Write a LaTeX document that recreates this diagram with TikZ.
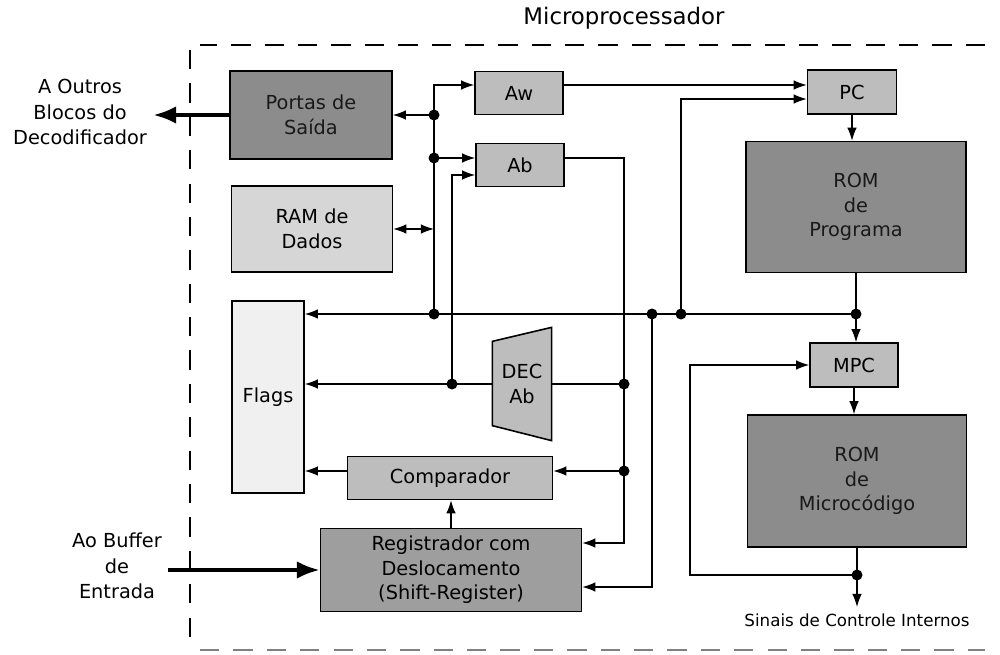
\documentclass[tikz,border=0pt]{standalone}
\usepackage{fontspec}
\setmainfont{DejaVu Sans}
\usetikzlibrary{calc,arrows.meta}
\definecolor{MPdark}{gray}{0.55}
\definecolor{MPmid}{gray}{0.62}
\definecolor{MPlight}{gray}{0.74}
\definecolor{MPpale}{gray}{0.84}
\definecolor{MPflag}{gray}{0.94}

\begin{document}
\begin{tikzpicture}[x=0.02cm,y=-0.02cm,>={Latex[length=7.5pt,width=5.5pt]},line width=0.75pt,
  blk/.style={draw,line width=0.9pt,inner sep=0pt,align=center,font=\fontsize{11}{14}\selectfont},
  bigarrow/.style={line width=2.2pt,-{Latex[length=13pt,width=10pt]}},
  side/.style={align=center,font=\fontsize{11}{14.5}\selectfont}]
\useasboundingbox (0,0) rectangle (1000,655);
% frame
\node[font=\fontsize{13}{15}\selectfont] (titulo) at (624,18) {Microprocessador};
\draw[dash pattern=on 11pt off 8pt,line width=0.9pt] (985,45) -- (200,45);
\draw[dash pattern=on 11pt off 8pt,line width=0.9pt] (190,50) -- (190,650);
\draw[dash pattern=on 11pt off 8pt,line width=0.6pt,gray] (200,650) -- (985,650);
% blocks
\node[blk,fill=MPdark,text=black!90,minimum width=3.24cm,minimum height=1.76cm] (portas) at (311,115) {Portas de\\Saída};
\node[blk,fill=MPpale,minimum width=3.22cm,minimum height=1.72cm] (ram) at (312,229) {RAM de\\Dados};
\node[blk,fill=MPflag,minimum width=1.44cm,minimum height=3.84cm] (flags) at (268,397) {Flags};
\node[blk,fill=MPlight,minimum width=1.76cm,minimum height=0.86cm] (aw) at (519,93) {Aw};
\node[blk,fill=MPlight,minimum width=1.76cm,minimum height=0.86cm] (ab) at (520,165) {Ab};
\node[blk,fill=MPlight,minimum width=1.78cm,minimum height=0.88cm] (pc) at (852,92) {PC};
\node[blk,fill=MPdark,text=black!90,minimum width=4.4cm,minimum height=2.62cm] (romp) at (856,207) {ROM\\de\\Programa};
\node[blk,fill=MPlight,minimum width=1.76cm,minimum height=0.88cm] (mpc) at (854,365) {MPC};
\node[blk,fill=MPdark,text=black!90,minimum width=4.38cm,minimum height=2.64cm] (romm) at (857,481) {ROM\\de\\Microcódigo};
\node[blk,fill=MPlight,minimum width=4.1cm,minimum height=0.86cm] (comp) at (450,478) {Comparador};
\node[blk,fill=MPmid,minimum width=5.22cm,minimum height=1.66cm] (reg) at (451,570) {Registrador com\\Deslocamento\\(Shift-Register)};
\node[minimum width=1.16cm,minimum height=2.24cm,inner sep=0pt] (dec) at (522,384) {};
\draw[fill=MPlight,line width=0.9pt] ($(dec.north west)+(0,14)$) -- (dec.north east) -- (dec.south east) -- ($(dec.south west)+(0,-15)$) -- cycle;
\node[blk,draw=none] at (dec) {DEC\\Ab};
% outside labels
\node[side] (outros) at (80,112) {A Outros\\Blocos do\\Decodificador};
\node[side] (buffer) at (117,566) {Ao Buffer\\de\\Entrada};
\node[anchor=north,font=\fontsize{9.5}{11}\selectfont] (sinais) at (857,607) {Sinais de Controle Internos};
\draw[bigarrow] (portas.west) -- (outros.east |- portas.west);
\draw[bigarrow] (buffer.east |- reg.west) -- (reg.west);
% junctions
\coordinate (bt) at (434,85); \coordinate (j1) at (434,115); \coordinate (j2) at (434,158); \coordinate (j3) at (434,314);
\coordinate (ai) at (452,175); \coordinate (jd) at (452,384);
\coordinate (ao) at (624,158); \coordinate (jk) at (624,384); \coordinate (jc) at (624,471); \coordinate (rb) at (624,543);
\coordinate (j4) at (652,314); \coordinate (rl) at (652,587);
\coordinate (j5) at (681,314); \coordinate (pt) at (681,99);
\coordinate (jr) at (romp.south |- j3);
\coordinate (jm) at (857,575); \coordinate (fb) at (690,575);
% bus on the left
\draw[->] (j3) -- (bt) -- (aw.west |- bt);
\draw[->] (j1) -- (portas.east |- j1);
\draw[->] (j2) -- (ab.west |- j2);
\draw[<->] (ram.east) -- (ram.east -| bt);
\draw[->] (jd) -- (ai) -- (ab.west |- ai);
\draw[->] (dec.west) -- (flags.east |- dec.west);
\draw[->] (jr) -- (flags.east |- j3);
% Ab output
\draw[->] (ab.east |- ao) -- (ao) -- (rb) -- (reg.east |- rb);
\draw (dec.east) -- (jk);
\draw[->] (jc) -- (comp.east |- jc);
\draw[->] (comp.west |- jc) -- (flags.east |- jc);
\draw[->] (reg.north) -- (reg.north |- comp.south);
\draw[->] (j4) -- (rl) -- (reg.east |- rl);
% program side
\draw[->] (aw.east |- bt) -- (pc.west |- bt);
\draw[->] (j5) -- (pt) -- (pc.west |- pt);
\draw[->] (pc.south) -- (pc.south |- romp.north);
\draw (romp.south) -- (jr);
\draw[->] (jr) -- (jr |- mpc.north);
\draw[->] (mpc.south) -- (mpc.south |- romm.north);
\draw (romm.south) -- (jm);
\draw[->] (jm) -- (sinais.north);
\draw[->] (jm) -- (fb) -- (fb |- mpc.west) -- (mpc.west);
\foreach \p in {j1,j2,j3,j4,j5,jd,jk,jc,jr,jm} \fill (\p) circle (0.11cm);
\end{tikzpicture}
\end{document}
